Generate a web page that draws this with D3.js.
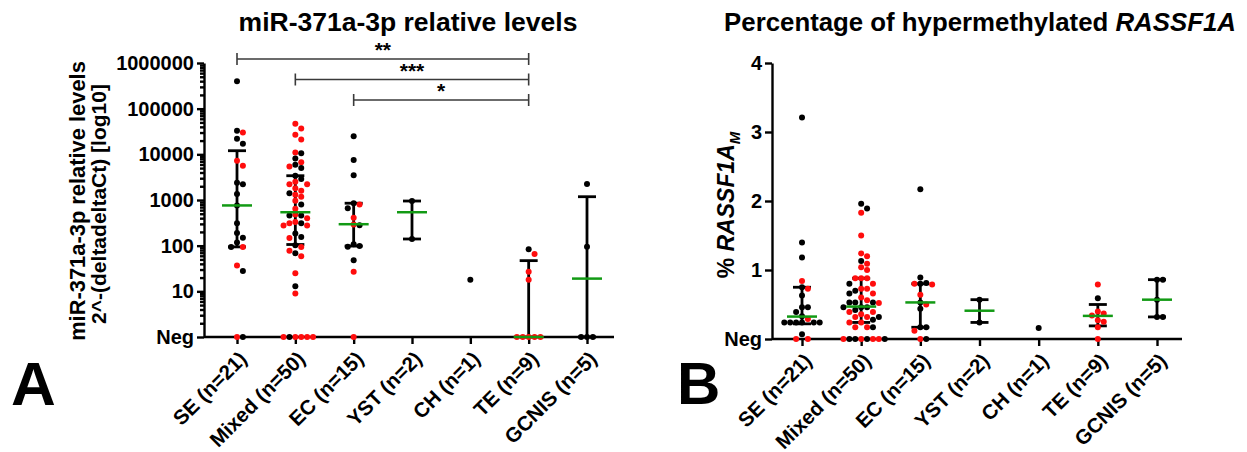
<!DOCTYPE html>
<html>
<head>
<meta charset="utf-8">
<script src="https://cdn.jsdelivr.net/npm/d3@7"></script>
<style>
  body { margin: 0; background: #fff; }
  svg { display: block; }
  text { font-family: "Liberation Sans", Arial, sans-serif; font-weight: bold; fill: #000; }
</style>
</head>
<body>
<svg id="chart" width="1247" height="452"></svg>
<script>
'use strict';

var catLabels = ['SE (n=21)', 'Mixed (n=50)', 'EC (n=15)', 'YST (n=2)', 'CH (n=1)', 'TE (n=9)', 'GCNIS (n=5)'];

// panel A: miR-371a-3p, [value, red?]; 0 = Neg
var mirSE = [[400000,0],[33000,0],[30000,1],[22000,0],[17000,0],[7200,1],[5600,1],[2400,0],[2200,0],[1350,0],[760,0],[310,0],[190,0],[150,0],[117,0],[93,1],[93,0],[37,1],[28,0],[0,1],[0,0]];
var mirMixed = [[47000,1],[37000,1],[27000,1],[21000,1],[11000,1],[10500,0],[8100,0],[6700,1],[5900,0],[5400,1],[5000,0],[3400,0],[2900,0],[2500,1],[2200,1],[2200,1],[1800,1],[1600,1],[1400,0],[1300,1],[1180,1],[960,1],[800,0],[645,1],[480,1],[455,0],[455,0],[400,1],[330,1],[310,0],[310,1],[275,1],[275,1],[185,0],[155,0],[148,1],[102,0],[94,1],[77,1],[68,0],[59,1],[25,1],[13,0],[9,1],[0,1],[0,1],[0,0],[0,1],[0,1],[0,1]];
var mirEC = [[25000,0],[7500,0],[3500,0],[850,0],[800,1],[660,0],[410,1],[290,1],[280,0],[107,0],[98,0],[95,0],[48,0],[27,1],[0,1]];
var mirYST = [[950,0],[140,0]];
var mirCH = [[18,0]];
var mirTE = [[83,0],[66,1],[27,1],[18,1],[0,1],[0,1],[0,1],[0,1],[0,1]];
var mirGCNIS = [[2240,0],[95,0],[0,0],[0,0],[0,0]];
var mirMedian = [760, 540, 295, 540, null, 0, 19];
var mirLow = [94, 106, 98, 140, null, 0, 0];
var mirHigh = [12000, 3400, 850, 950, null, 47, 1180];
var mirTicks = [1, 10, 100, 1000, 10000, 100000, 1000000];
var sigPairs = [[0, 5, '**'], [1, 5, '***'], [2, 5, '*']];

// panel B: % RASSF1A_M
var rasSE = [[3.21,0],[1.40,0],[1.18,0],[0.84,1],[0.75,0],[0.73,1],[0.63,0],[0.46,0],[0.46,0],[0.39,0],[0.33,0],[0.29,1],[0.24,0],[0.24,0],[0.24,0],[0.24,0],[0.24,0],[0.24,0],[0.07,0],[0,1],[0,1]];
var rasMixed = [[1.96,0],[1.89,0],[1.83,1],[1.50,1],[1.24,1],[1.20,1],[1.13,0],[1.09,1],[1.04,1],[1.00,1],[0.88,1],[0.88,1],[0.88,1],[0.80,1],[0.80,0],[0.73,1],[0.73,1],[0.70,0],[0.66,1],[0.66,0],[0.60,1],[0.56,1],[0.53,0],[0.53,0],[0.53,0],[0.52,1],[0.46,0],[0.46,0],[0.46,0],[0.42,0],[0.39,1],[0.39,1],[0.36,1],[0.32,1],[0.32,1],[0.32,0],[0.28,0],[0.24,1],[0.24,1],[0.17,1],[0.17,1],[0.17,0],[0,1],[0,0],[0,0],[0,1],[0,0],[0,1],[0,1],[0,0]];
var rasEC = [[2.17,0],[0.89,0],[0.81,0],[0.80,0],[0.80,1],[0.79,1],[0.64,1],[0.53,0],[0.50,1],[0.44,0],[0.17,0],[0.17,0],[0.12,1],[0,1],[0,0]];
var rasYST = [[0.57,0],[0.24,0]];
var rasCH = [[0.16,0]];
var rasTE = [[0.79,1],[0.59,0],[0.40,1],[0.37,1],[0.34,1],[0.27,1],[0.25,1],[0.17,1],[0,1]];
var rasGCNIS = [[0.86,0],[0.86,0],[0.57,0],[0.32,0],[0.32,0]];
var rasMedian = [0.325, 0.47, 0.53, 0.41, null, 0.335, 0.57];
var rasLow = [0.22, 0.24, 0.17, 0.24, null, 0.19, 0.32];
var rasHigh = [0.75, 0.88, 0.80, 0.57, null, 0.50, 0.86];
var rasTicks = [0, 1, 2, 3, 4];

var RED = '#ff0d0d', GREEN = '#129a14', DOT_R = 3, STEP = 5.9;

var svg = d3.select('#chart');

// simple beeswarm: x offsets so the dots of one column don't overlap
function swarm(pys) {
  var placed = [];
  var order = pys.map(function (y, i) { return i; })
    .sort(function (a, b) { return pys[a] - pys[b]; });
  var offs = new Array(pys.length);
  order.forEach(function (i) {
    var y = pys[i];
    for (var k = 0; k < 40; k++) {
      var dx = (k === 0 ? 0 : (k % 2 ? 1 : -1) * Math.ceil(k / 2)) * STEP;
      var hit = placed.some(function (p) {
        return Math.abs(p[0] - dx) < STEP * 0.95 && Math.abs(p[1] - y) < STEP * 0.95;
      });
      if (!hit) { offs[i] = dx; placed.push([dx, y]); break; }
    }
  });
  return offs;
}

// shrink/grow a text so it spans the given width
function fit(sel, width) {
  var fs = +sel.attr('font-size');
  var len = sel.node().getComputedTextLength();
  sel.attr('font-size', fs * width / len);
  return sel;
}

function panel(o) {
  var g = svg.append('g');
  var x = d3.scalePoint().domain(catLabels).range(o.xRange);
  var y = o.y;
  var py = function (v) { return y(o.clamp ? Math.max(v, 1) : v); };

  // y axis
  var yAxis = d3.axisLeft(y).tickValues(o.ticks).tickSize(7).tickSizeOuter(0).tickPadding(3)
    .tickFormat(o.fmt);
  var ya = g.append('g').attr('transform', 'translate(' + o.x0 + ',0)').call(yAxis);
  if (o.minor) {
    g.append('g').attr('transform', 'translate(' + o.x0 + ',0)')
      .call(d3.axisLeft(y).tickValues(o.minor).tickSize(4).tickFormat(''))
      .select('.domain').remove();
  }
  // x axis
  var xa = g.append('g').attr('transform', 'translate(0,' + o.yBase + ')')
    .call(d3.axisBottom(x).tickSize(7).tickFormat(''));
  xa.select('.domain').remove();
  g.append('line')
    .attr('x1', o.x0).attr('x2', o.xEnd)
    .attr('y1', o.yBase).attr('y2', o.yBase)
    .attr('stroke', '#000').attr('stroke-width', 2.6);

  g.selectAll('.domain, .tick line').attr('stroke', '#000').attr('stroke-width', 2.4);
  ya.selectAll('.tick text').attr('font-size', 20).attr('font-family', null).style('font-weight', 'bold');

  // category labels
  g.selectAll('text.cat').data(catLabels).enter().append('text')
    .attr('class', 'cat')
    .attr('transform', function (d) { return 'translate(' + (x(d) + 6) + ',' + (o.yBase + 18) + ') rotate(-45)'; })
    .attr('text-anchor', 'end')
    .attr('dy', '0.35em')
    .attr('font-size', 20.5)
    .text(function (d) { return d; });

  // error bars
  var bars = g.append('g');
  catLabels.forEach(function (c, i) {
    if (o.median[i] == null) return;
    var cx = x(c), lo = py(o.low[i]), hi = py(o.high[i]);
    bars.append('line').attr('x1', cx).attr('x2', cx).attr('y1', lo).attr('y2', hi);
    [lo, hi].forEach(function (yy) {
      bars.append('line').attr('x1', cx - 9).attr('x2', cx + 9).attr('y1', yy).attr('y2', yy);
    });
  });
  bars.selectAll('line').attr('stroke', '#000').attr('stroke-width', 2.8);

  // dots
  o.groups.forEach(function (pts, i) {
    var cx = x(catLabels[i]);
    var pys = pts.map(function (p) { return py(p[0]); });
    var offs = swarm(pys);
    g.append('g').selectAll('circle').data(pts).enter().append('circle')
      .attr('cx', function (d, j) { return cx + offs[j]; })
      .attr('cy', function (d, j) { return pys[j]; })
      .attr('r', DOT_R)
      .attr('fill', function (d) { return d[1] ? RED : '#000'; });
  });

  // medians
  catLabels.forEach(function (c, i) {
    if (o.median[i] == null) return;
    var my = py(o.median[i]);
    g.append('line').attr('x1', x(c) - 15).attr('x2', x(c) + 15)
      .attr('y1', my).attr('y2', my)
      .attr('stroke', GREEN).attr('stroke-width', 2.5);
  });

  return { g: g, x: x };
}

// ---- panel A
var yMir = d3.scaleLog().domain([1, 1e6]).range([337, 63]);
var mirMinor = [];
for (var k = 0; k < 6; k++) for (var m = 2; m < 10; m++) mirMinor.push(m * Math.pow(10, k));

var pA = panel({
  y: yMir, clamp: true, x0: 204, xEnd: 614, yBase: 337, xRange: [237, 587],
  ticks: mirTicks, minor: mirMinor,
  fmt: function (v) { return v === 1 ? 'Neg' : d3.format('d')(v); },
  groups: [mirSE, mirMixed, mirEC, mirYST, mirCH, mirTE, mirGCNIS],
  median: mirMedian, low: mirLow, high: mirHigh
});

// significance brackets
sigPairs.forEach(function (s, i) {
  var x1 = pA.x(catLabels[s[0]]), x2 = pA.x(catLabels[s[1]]), yy = 59 + i * 20.5;
  var b = pA.g.append('g').attr('stroke', '#3a3a3a').attr('stroke-width', 1.6);
  b.append('line').attr('x1', x1).attr('x2', x2).attr('y1', yy).attr('y2', yy);
  b.append('line').attr('x1', x1).attr('x2', x1).attr('y1', yy - 6).attr('y2', yy + 6);
  b.append('line').attr('x1', x2).attr('x2', x2).attr('y1', yy - 6).attr('y2', yy + 6);
  pA.g.append('text').attr('x', (x1 + x2) / 2).attr('y', yy - 2)
    .attr('text-anchor', 'middle').attr('font-size', 21).text(s[2]);
});

fit(svg.append('text').attr('x', 408).attr('y', 31).attr('text-anchor', 'middle')
  .attr('font-size', 25).text('miR-371a-3p relative levels'), 339);
fit(svg.append('text').attr('transform', 'translate(85,201) rotate(-90)')
  .attr('text-anchor', 'middle').attr('font-size', 21.5).text('miR-371a-3p relative levels'), 280);
fit(svg.append('text').attr('transform', 'translate(106,204) rotate(-90)')
  .attr('text-anchor', 'middle').attr('font-size', 21.5).text('2^-(deltadeltaCt) [log10]'), 240);
svg.append('text').attr('x', 11).attr('y', 405).attr('font-size', 62).text('A');

// ---- panel B
var yRas = d3.scaleLinear().domain([0, 4]).range([339, 63]);
panel({
  y: yRas, clamp: false, x0: 772, xEnd: 1182, yBase: 339, xRange: [802, 1157],
  ticks: rasTicks, minor: null,
  fmt: function (v) { return v === 0 ? 'Neg' : v; },
  groups: [rasSE, rasMixed, rasEC, rasYST, rasCH, rasTE, rasGCNIS],
  median: rasMedian, low: rasLow, high: rasHigh
});

var tB = svg.append('text').attr('x', 980).attr('y', 31).attr('text-anchor', 'middle').attr('font-size', 25);
tB.append('tspan').text('Percentage of hypermethylated ');
tB.append('tspan').attr('font-style', 'italic').text('RASSF1A');
fit(tB, 512);

var lB = svg.append('text').attr('transform', 'translate(734,205) rotate(-90)')
  .attr('text-anchor', 'middle').attr('font-size', 23);
lB.append('tspan').text('% ');
lB.append('tspan').attr('font-style', 'italic').text('RASSF1A');
lB.append('tspan').attr('font-style', 'italic').attr('font-size', 15).attr('dy', 6).text('M');

svg.append('text').attr('x', 677).attr('y', 404).attr('font-size', 60).text('B');
</script>
</body>
</html>
